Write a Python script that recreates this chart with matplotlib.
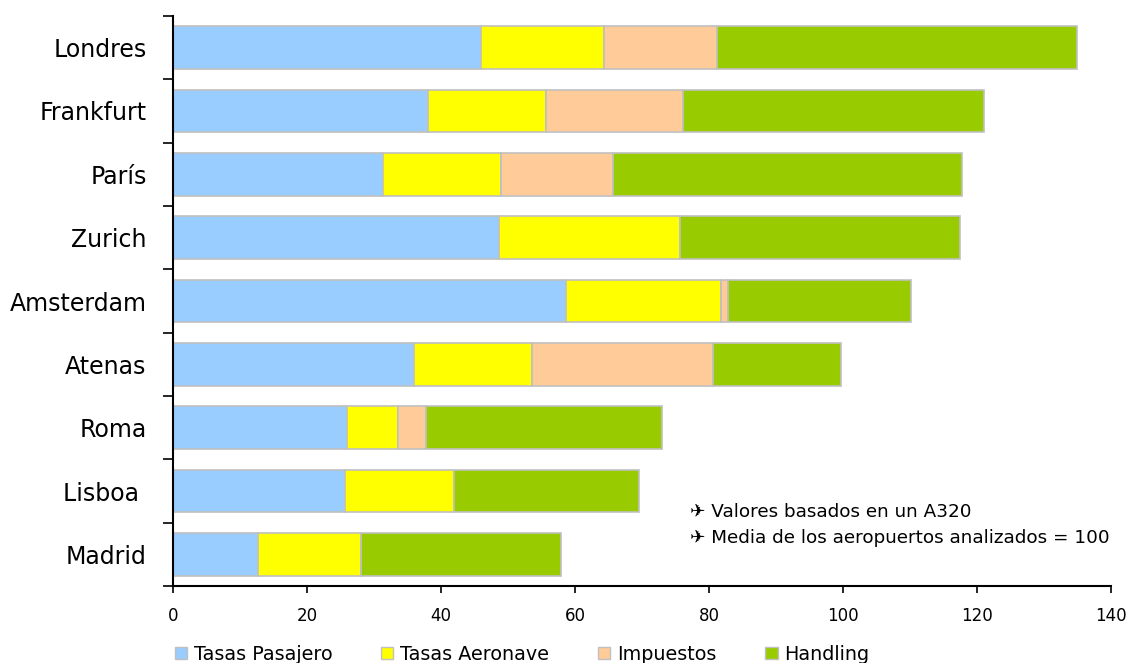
import matplotlib
matplotlib.use('Agg')
import matplotlib.pyplot as plt
from matplotlib.patches import Patch
import numpy as np

# datos (indice, media = 100)
ciudades = ['Londres', 'Frankfurt', 'París', 'Zurich', 'Amsterdam',
            'Atenas', 'Roma', 'Lisboa ', 'Madrid']
tasas_pasajero = [45.9, 38.0, 31.4, 48.7, 58.7, 36.0, 25.9, 25.6, 12.7]
tasas_aeronave = [18.4, 17.7, 17.5, 26.9, 23.1, 17.6, 7.7, 16.4, 15.4]
impuestos = [16.9, 20.4, 16.8, 0.0, 1.0, 27.0, 4.1, 0.0, 0.0]
handling = [53.7, 45.0, 52.0, 41.9, 27.3, 19.1, 35.3, 27.6, 29.8]

series = ['Tasas Pasajero', 'Tasas Aeronave', 'Impuestos', 'Handling']
colores = ['#99CCFF', '#FFFF00', '#FFCC99', '#99CC00']
xticks = [0, 20, 40, 60, 80, 100, 120, 140]
notas = ['Valores basados en un A320', 'Media de los aeropuertos analizados = 100']

plt.rcParams['font.family'] = ['DejaVu Sans']

fig = plt.figure(figsize=(11.28, 6.63), dpi=100)
ax = fig.add_axes([0.1534, 0.1161, 0.8316, 0.8598])

y = np.arange(len(ciudades))
left = np.zeros(len(ciudades))
for vals, col in zip([tasas_pasajero, tasas_aeronave, impuestos, handling], colores):
    vals = np.array(vals)
    ax.barh(y, vals, left=left, height=0.67, color=col,
            edgecolor='#C0C0C0', linewidth=1.2)
    left += vals

ax.set_xlim(0, 140)
ax.set_ylim(len(ciudades) - 0.5, -0.5)
ax.set_xticks(xticks)
ax.set_yticks(y)
ax.set_yticklabels(ciudades, fontsize=17)
ax.set_yticks(np.arange(-0.5, len(ciudades)), minor=True)
ax.tick_params(axis='y', which='major', length=0, pad=19)
ax.tick_params(axis='y', which='minor', length=7, width=1.2)
ax.tick_params(axis='x', length=5, width=1.2, labelsize=12, pad=10)
for s in ['top', 'right']:
    ax.spines[s].set_visible(False)
for s in ['left', 'bottom']:
    ax.spines[s].set_linewidth(1.5)

for i, nota in enumerate(notas):
    fig.text(0.612, 0.228 - i * 0.039, '\u2708 ' + nota, fontsize=13.2,
             va='center', ha='left')

handles = [Patch(facecolor=c, edgecolor='#C0C0C0', label=s)
           for c, s in zip(colores, series)]
fig.legend(handles=handles, loc='center', bbox_to_anchor=(0.463, 0.013),
           ncol=4, frameon=False, fontsize=13.8, handlelength=0.63,
           handleheight=0.63, handletextpad=0.36, columnspacing=2.55)

fig.savefig('out.png', dpi=100)
